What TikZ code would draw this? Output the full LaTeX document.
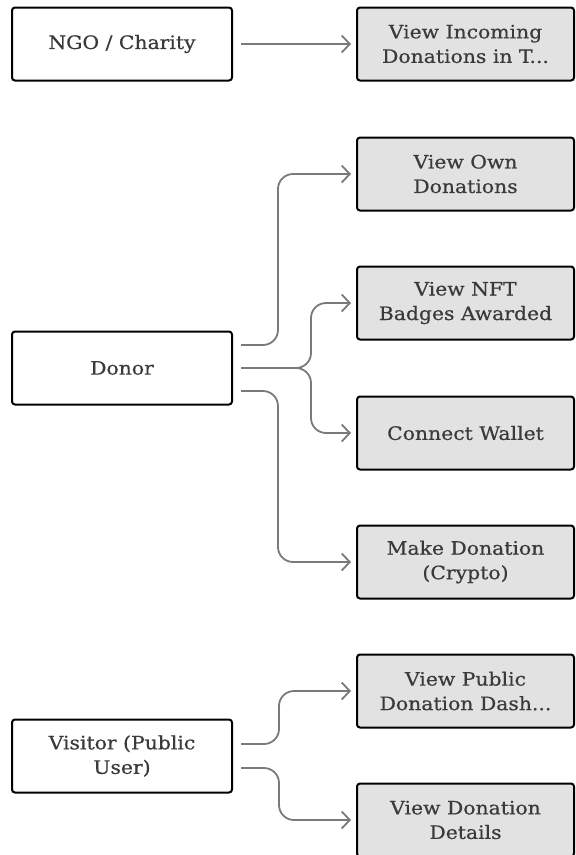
\documentclass[tikz,border=0pt]{standalone}
\usepackage{fontspec}
\setmainfont{DejaVu Serif}[FakeStretch=1.1, FakeBold=0.6]
\usepackage{tikz}
\usetikzlibrary{arrows.meta}
\definecolor{boxgray}{HTML}{E2E2E2}
\definecolor{linkgray}{HTML}{7A7A7A}
\definecolor{textgray}{HTML}{3A3A3A}

\begin{document}
\begin{tikzpicture}[
    x=1pt, y=-1pt,
    actor/.style={draw=black, line width=2pt, rounded corners=3pt, minimum width=220pt, minimum height=73pt, align=center, text=textgray, font=\fontsize{18.5}{24.5}\selectfont},
    usecase/.style={actor, fill=boxgray, minimum width=217pt},
    link/.style={draw=linkgray, line width=1.8pt, rounded corners=15pt, shorten <=8pt, shorten >=5pt, -{Straight Barb[length=8pt,width=17pt]}}
]
\useasboundingbox (0,0) rectangle (576,855);

% Actors on the left
\node[actor] (ngo) at (122,44) {NGO / Charity};
\node[actor] (donor) at (122,368) {Donor};
\node[actor] (visitor) at (122,756) {Visitor (Public\\User)};

% Use cases on the right
\foreach \n/\y/\t in {
    incoming/44/{View Incoming\\Donations in T...},
    own/174/{View Own\\Donations},
    nft/303/{View NFT\\Badges Awarded},
    wallet/433/{Connect Wallet},
    make/562/{Make Donation\\(Crypto)},
    dash/691/{View Public\\Donation Dash...},
    details/820/{View Donation\\Details}} {
    \node[usecase] (\n) at (465.5,\y) {\t};
}

% NGO
\draw[link] (ngo) -- (incoming);

% Donor
\draw[link] ([yshift=23pt]donor.east) -| ([xshift=-78pt]own.west) -- (own.west);
\draw[link] (donor.east) -| ([xshift=-45pt]nft.west) -- (nft.west);
\draw[link] (donor.east) -| ([xshift=-45pt]wallet.west) -- (wallet.west);
\draw[link] ([yshift=-23pt]donor.east) -| ([xshift=-78pt]make.west) -- (make.west);

% Visitor
\draw[link] ([yshift=12pt]visitor.east) -| ([xshift=-77pt]dash.west) -- (dash.west);
\draw[link] ([yshift=-12pt]visitor.east) -| ([xshift=-77pt]details.west) -- (details.west);

\end{tikzpicture}
\end{document}
